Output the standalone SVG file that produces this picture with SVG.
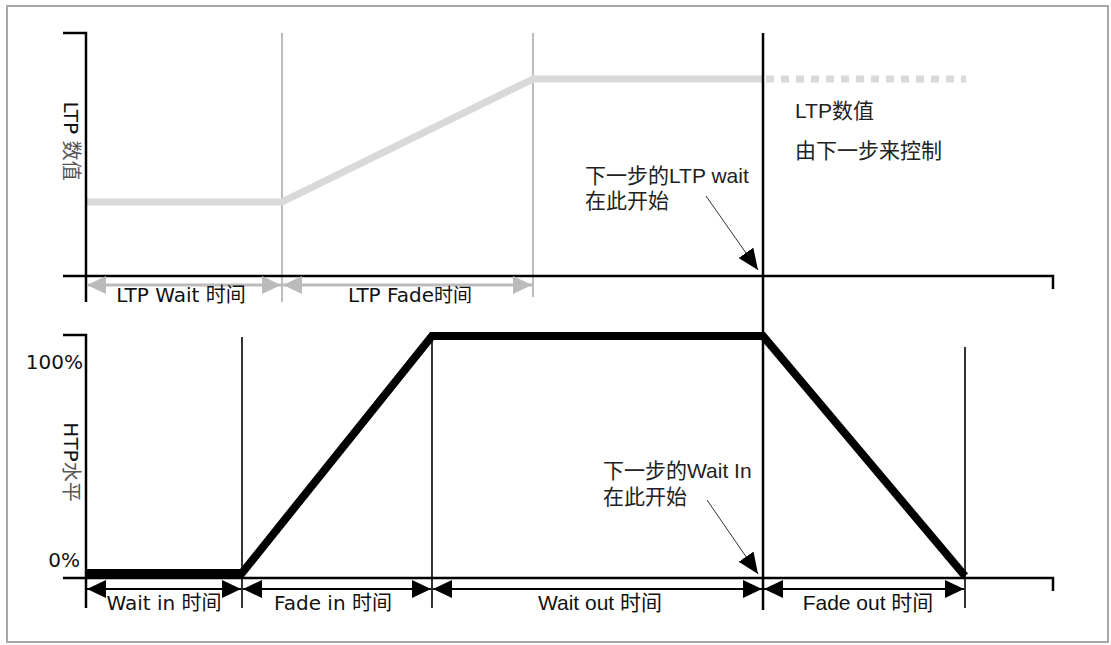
<svg xmlns="http://www.w3.org/2000/svg" width="1111" height="645" viewBox="0 0 1111 645">
<style>
.ax{stroke:#000;stroke-width:2.5;fill:none}
.vb{stroke:#000;stroke-width:1.6;fill:none}
.vg{stroke:#bdbdbd;stroke-width:2;fill:none}
.lbl{font-family:"DejaVu Sans","Noto Sans CJK SC",sans-serif;font-size:20px;fill:#111}
.lbn{font-family:"Liberation Sans","Noto Sans CJK SC",sans-serif;font-size:21px;fill:#111}
.ann{font-family:"Liberation Sans","Noto Sans CJK SC",sans-serif;font-size:21px;fill:#222}
.cj{fill:#555}
</style>
<defs>
<marker id="ab" markerUnits="userSpaceOnUse" markerWidth="20" markerHeight="18" refX="19" refY="9" orient="auto-start-reverse"><path d="M0,0 L19,9 L0,18 z" fill="#000"/></marker>
<marker id="ag" markerUnits="userSpaceOnUse" markerWidth="20" markerHeight="18" refX="19" refY="9" orient="auto-start-reverse"><path d="M0,0 L19,9 L0,18 z" fill="#bbb"/></marker>
<marker id="an" markerUnits="userSpaceOnUse" markerWidth="22" markerHeight="18" refX="21" refY="9" orient="auto"><path d="M0,0 L21,9 L0,18 z" fill="#000"/></marker>
</defs>
<rect x="7" y="6" width="1101" height="636" fill="#fff" stroke="#a8a8a8" stroke-width="2"/>

<g id="top-chart">
<line class="vg" x1="282" y1="33" x2="282" y2="302"/>
<line class="vg" x1="533" y1="33" x2="533" y2="297"/>
<polyline points="86,202 282,202 533,79 763,79" fill="none" stroke="#d9d9d9" stroke-width="7"/>
<line x1="766" y1="79" x2="966" y2="79" stroke="#d9d9d9" stroke-width="7" stroke-dasharray="8 7"/>
<polyline class="ax" points="63,33 86,33 86,302"/>
<polyline class="ax" points="63,276 1053,276 1053,289"/>
<text class="lbl" transform="translate(64,141) rotate(90)" text-anchor="middle">LTP <tspan class="cj">数值</tspan></text>
</g>

<g id="bottom-chart">
<line class="vb" x1="242" y1="337" x2="242" y2="608"/>
<line class="vb" x1="432" y1="337" x2="432" y2="608"/>
<line class="vb" x1="965" y1="347" x2="965" y2="608"/>
<polyline class="ax" points="63,335 86,335 86,608"/>
<polyline class="ax" points="63,578 1053,578 1053,591"/>
<polyline points="86,573 242,573 432,336 763,336 965,576" fill="none" stroke="#000" stroke-width="8" stroke-linejoin="miter"/>
<text class="lbl" x="83" y="369" text-anchor="end">100%</text>
<text class="lbl" x="80" y="567" text-anchor="end">0%</text>
<text class="lbl" transform="translate(64,462) rotate(90)" text-anchor="middle">HTP<tspan class="cj">水平</tspan></text>
</g>

<g id="divider">
<line x1="763" y1="33" x2="763" y2="610" stroke="#000" stroke-width="2.5"/>
</g>

<g id="connectors">
<line x1="87" y1="285" x2="281" y2="285" stroke="#bbb" stroke-width="3" marker-start="url(#ag)" marker-end="url(#ag)"/>
<line x1="283" y1="285" x2="532" y2="285" stroke="#bbb" stroke-width="3" marker-start="url(#ag)" marker-end="url(#ag)"/>
<line x1="87" y1="589" x2="241" y2="589" stroke="#000" stroke-width="2" marker-start="url(#ab)" marker-end="url(#ab)"/>
<line x1="243" y1="589" x2="431" y2="589" stroke="#000" stroke-width="2" marker-start="url(#ab)" marker-end="url(#ab)"/>
<line x1="433" y1="589" x2="762" y2="589" stroke="#000" stroke-width="2" marker-start="url(#ab)" marker-end="url(#ab)"/>
<line x1="764" y1="589" x2="964" y2="589" stroke="#000" stroke-width="2" marker-start="url(#ab)" marker-end="url(#ab)"/>
<line x1="706" y1="196" x2="758" y2="270" stroke="#333" stroke-width="1" marker-end="url(#an)"/>
<line x1="707" y1="500" x2="758" y2="574" stroke="#333" stroke-width="1" marker-end="url(#an)"/>
</g>

<g id="labels">
<text class="lbl" x="181" y="302" text-anchor="middle">LTP Wait 时间</text>
<text class="lbl" x="410" y="302" text-anchor="middle">LTP Fade<tspan font-size="19">时间</tspan></text>
<text class="lbl" x="164" y="610" text-anchor="middle">Wait in 时间</text>
<text class="lbl" x="333" y="610" text-anchor="middle">Fade in 时间</text>
<text class="lbn" x="600" y="610" text-anchor="middle">Wait out 时间</text>
<text class="lbn" x="868" y="610" text-anchor="middle">Fade out 时间</text>
</g>

<g id="annotation-ltp">
<text class="ann" x="585" y="183">下一步的LTP wait</text>
<text class="ann" x="585" y="208">在此开始</text>
</g>
<g id="annotation-ltp-value">
<text class="ann" x="795" y="118">LTP数值</text>
<text class="ann" x="795" y="158">由下一步来控制</text>
</g>
<g id="annotation-wait-in">
<text class="ann" x="603" y="478">下一步的Wait In</text>
<text class="ann" x="603" y="504">在此开始</text>
</g>
</svg>
